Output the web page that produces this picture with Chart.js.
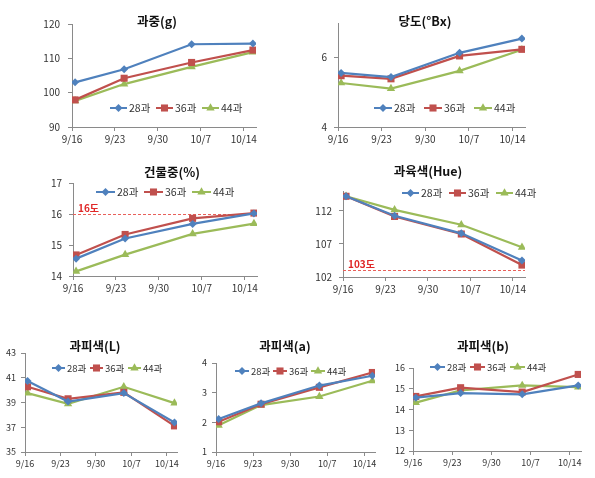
<!DOCTYPE html>
<html><head><meta charset="utf-8">
<script src="https://cdn.jsdelivr.net/npm/chart.js@4"></script>
<style>
html,body{margin:0;padding:0;background:#fff;}
body{width:595px;height:478px;position:relative;overflow:hidden;}
canvas{position:absolute;}
</style></head><body>
<script>
// ---------- data ----------
const seriesNames = ['28과','36과','44과'];
const sampleDates = ['9/16','9/24','10/5','10/15'];
const tickLabels = ['9/16','9/23','9/30','10/7','10/14'];

const weightTitle = '과중(g)';
const weightTicks = [90,100,110,120];
const weight28 = [103.0,106.8,114.1,114.3];
const weight36 = [97.9,104.2,108.8,112.4];
const weight44 = [97.6,102.5,107.5,111.8];

const brixTitle = '당도(°Bx)';
const brixTicks = [4,6];
const brixMax = 7;
const brix28 = [5.56,5.44,6.14,6.55];
const brix36 = [5.48,5.39,6.05,6.24];
const brix44 = [5.27,5.11,5.62,6.23];

const dryTitle = '건물중(%)';
const dryTicks = [14,15,16,17];
const dry28 = [14.56,15.21,15.68,16.02];
const dry36 = [14.68,15.34,15.86,16.03];
const dry44 = [14.15,14.69,15.36,15.69];
const dryRef = 16, dryRefLabel = '16도';

const hueTitle = '과육색(Hue)';
const hueTicks = [102,107,112];
const hueMax = 115;
const hue28 = [114.2,111.25,108.6,104.5];
const hue36 = [114.2,111.15,108.5,103.8];
const hue44 = [114.2,112.15,109.9,106.5];
const hueRef = 103, hueRefLabel = '103도';

const lTitle = '과피색(L)';
const lTicks = [35,37,39,41,43];
const l28 = [40.73,39.08,39.76,37.38];
const l36 = [40.27,39.30,39.82,37.11];
const l44 = [39.76,38.90,40.27,38.95];

const aTitle = '과피색(a)';
const aTicks = [1,2,3,4];
const a28 = [2.11,2.64,3.24,3.57];
const a36 = [2.02,2.61,3.18,3.68];
const a44 = [1.90,2.58,2.87,3.40];

const bTitle = '과피색(b)';
const bTicks = [12,13,14,15,16];
const b28 = [14.57,14.79,14.73,15.16];
const b36 = [14.63,15.05,14.84,15.69];
const b44 = [14.33,14.92,15.16,15.08];

// ---------- helpers ----------
function dayOffset(s){ const [m,d]=s.split('/').map(Number); return m===9 ? d-16 : 30-16+d; }
const xDays = sampleDates.map(s=>dayOffset(s)+0.5);   // date axis, point in middle of its day
const xTickDays = tickLabels.map(dayOffset);
const xMax = dayOffset(sampleDates[sampleDates.length-1])+1;

const colors = ['#4F81BD','#C0504D','#9BBB59'];
const styles = ['rectRot','rect','triangle'];
const radii = [4,5,4.8];
const FONT = '"Noto Sans CJK KR","Noto Sans",sans-serif';

const charts = [
  {title:weightTitle, ticks:weightTicks, max:120, s:[weight28,weight36,weight44]},
  {title:brixTitle, ticks:brixTicks, max:brixMax, s:[brix28,brix36,brix44]},
  {title:dryTitle, ticks:dryTicks, max:17, s:[dry28,dry36,dry44], ref:dryRef, refLabel:dryRefLabel},
  {title:hueTitle, ticks:hueTicks, max:hueMax, s:[hue28,hue36,hue44], ref:hueRef, refLabel:hueRefLabel},
  {title:lTitle, ticks:lTicks, max:43, s:[l28,l36,l44]},
  {title:aTitle, ticks:aTicks, max:4, s:[a28,a36,a44]},
  {title:bTitle, ticks:bTicks, max:16, s:[b28,b36,b44]},
];

// ---------- layout (page pixels) ----------
const layouts = [
 {L:72,T:24,R:256,B:127, tx:157,ty:21, lx:110,ly:108,lsp:46,ll:17, ypad:8, fs:10, lfs:10.5},
 {L:338,T:23,R:525,B:127, tx:425,ty:21, lx:374,ly:108,lsp:50,ll:18, ypad:7, fs:10, lfs:10.5},
 {L:73,T:183,R:257,B:276, tx:172,ty:172, lx:96,ly:192,lsp:48,ll:19, ypad:7, fs:10, lfs:10.5},
 {L:343,T:191,R:525,B:277, tx:428,ty:171, lx:402,ly:193,lsp:47,ll:17, ypad:7, fs:10, lfs:10.5},
 {L:25,T:353,R:177,B:452, tx:95,ty:346, lx:52,ly:368,lsp:38,ll:13, ypad:5, fs:9, lfs:9.5},
 {L:216,T:363,R:375,B:452, tx:285,ty:346, lx:235,ly:371,lsp:38,ll:14, ypad:5, fs:9, lfs:9.5},
 {L:413,T:368,R:581,B:451, tx:483,ty:346, lx:430,ly:367,lsp:40,ll:15, ypad:4, fs:9, lfs:9.5},
];
const PAD_L=45, PAD_T=30, PAD_R=14, PAD_B=24;

function drawMarker(ctx, style, x, y, r, color){
  ctx.fillStyle=color; ctx.beginPath();
  if(style==='rectRot'){ctx.moveTo(x-r,y);ctx.lineTo(x,y-r);ctx.lineTo(x+r,y);ctx.lineTo(x,y+r);}
  else if(style==='rect'){const s=r*Math.SQRT1_2; ctx.rect(x-s,y-s,2*s,2*s);}
  else {ctx.moveTo(x,y-r);ctx.lineTo(x+0.866*r,y+0.5*r);ctx.lineTo(x-0.866*r,y+0.5*r);}
  ctx.closePath(); ctx.fill();
}

const deco = {
  id:'deco',
  beforeDatasetsDraw(chart, args, o){
    if(o.ref==null) return;
    const ctx=chart.ctx, a=chart.chartArea, py=Math.round(chart.scales.y.getPixelForValue(o.ref))+0.5;
    ctx.save();
    ctx.strokeStyle='#E8605A'; ctx.lineWidth=1; ctx.setLineDash([3,2]);
    ctx.beginPath(); ctx.moveTo(a.left,py); ctx.lineTo(a.right,py); ctx.stroke();
    ctx.setLineDash([]);
    ctx.fillStyle='#E02828'; ctx.font='bold 10px '+FONT; ctx.textAlign='left'; ctx.textBaseline='bottom';
    ctx.fillText(o.refLabel, a.left+5, py-1);
    ctx.restore();
  },
  afterDraw(chart, args, o){
    const ctx=chart.ctx;
    ctx.save();
    ctx.fillStyle='#111'; ctx.font='bold 12.5px '+FONT; ctx.textAlign='center'; ctx.textBaseline='middle';
    ctx.fillText(o.title, o.tx, o.ty);
    ctx.font=o.lfs+'px '+FONT; ctx.textAlign='left';
    chart.data.datasets.forEach((ds,i)=>{
      const x=o.lx+i*o.lsp, y=o.ly;
      ctx.strokeStyle=ds.borderColor; ctx.lineWidth=2;
      ctx.beginPath(); ctx.moveTo(x,y); ctx.lineTo(x+o.ll,y); ctx.stroke();
      drawMarker(ctx, ds.pointStyle, x+o.ll/2, y, ds.pointRadius, ds.borderColor);
      ctx.fillStyle='#333';
      ctx.fillText(ds.label, x+o.ll+2, y+0.5);
    });
    ctx.restore();
  }
};

charts.forEach((c,idx)=>{
  const g=layouts[idx];
  const cv=document.createElement('canvas');
  const left=g.L-PAD_L, top=g.T-PAD_T;
  const w=(g.R-g.L)+PAD_L+PAD_R, h=(g.B-g.T)+PAD_T+PAD_B;
  cv.width=w; cv.height=h; cv.style.left=left+'px'; cv.style.top=top+'px';
  cv.style.width=w+'px'; cv.style.height=h+'px';
  document.body.appendChild(cv);
  const datasets=c.s.map((vals,i)=>({
    label:seriesNames[i],
    data:vals.map((v,k)=>({x:xDays[k], y:v})),
    borderColor:colors[i], backgroundColor:colors[i],
    pointBackgroundColor:colors[i], pointBorderColor:colors[i],
    pointStyle:styles[i], pointRadius:radii[i], pointBorderWidth:0,
    borderWidth:2.2, tension:0, fill:false
  }));
  const axisColor='#8a8a8a';
  new Chart(cv,{
    type:'line',
    data:{datasets},
    options:{
      responsive:false, animation:false, events:[],
      layout:{padding:{left:0,top:PAD_T,right:PAD_R,bottom:0}},
      plugins:{legend:{display:false}, tooltip:{enabled:false},
        deco:{title:c.title, tx:g.tx-left, ty:g.ty-top, lx:g.lx-left, ly:g.ly-top, lsp:g.lsp, ll:g.ll, lfs:g.lfs, ref:c.ref, refLabel:c.refLabel}},
      scales:{
        x:{type:'linear', min:0, max:xMax,
          afterFit:s=>{s.height=PAD_B;},
          afterBuildTicks:s=>{s.ticks=xTickDays.map(v=>({value:v}));},
          ticks:{autoSkip:false, maxRotation:0, padding:2, color:'#333', font:{family:FONT,size:g.fs},
            callback:v=>{const k=xTickDays.indexOf(v); return k>=0?tickLabels[k]:'';}},
          grid:{drawOnChartArea:false, drawTicks:true, tickLength:4, color:axisColor},
          border:{display:true, color:axisColor, width:1}
        },
        y:{type:'linear', min:c.ticks[0], max:c.max,
          afterFit:s=>{s.width=PAD_L;},
          afterBuildTicks:s=>{s.ticks=c.ticks.map(v=>({value:v}));},
          ticks:{autoSkip:false, padding:g.ypad, color:'#333', font:{family:FONT,size:g.fs}},
          grid:{drawOnChartArea:false, drawTicks:true, tickLength:4, color:axisColor},
          border:{display:true, color:axisColor, width:1}
        }
      }
    },
    plugins:[deco]
  });
});
</script>
</body></html>
